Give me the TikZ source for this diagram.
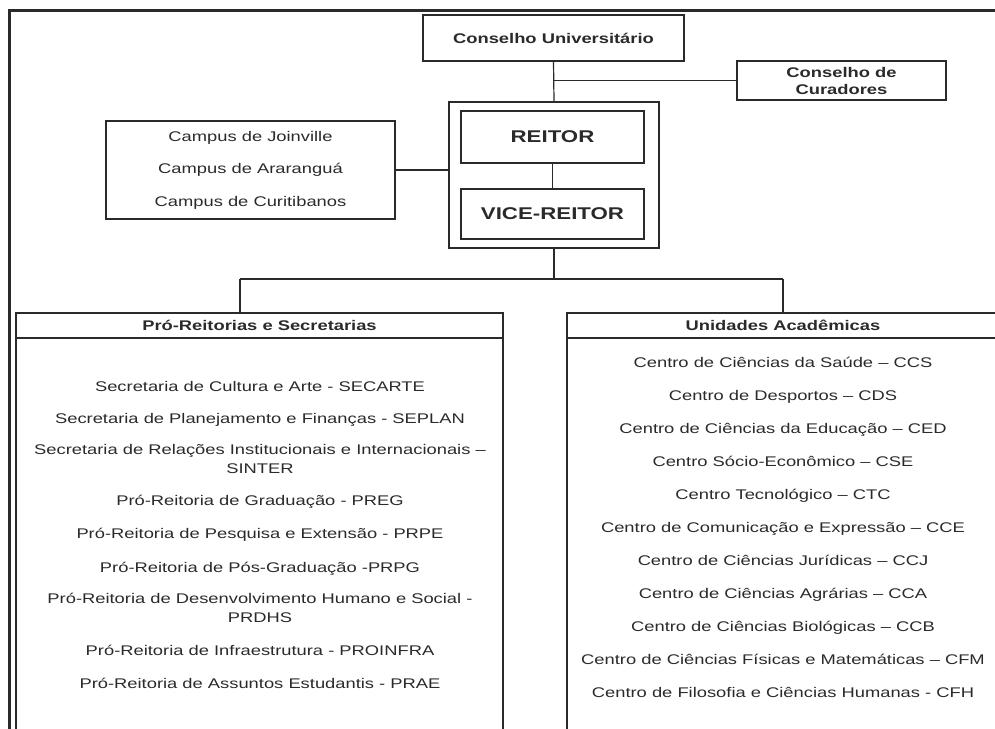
\documentclass[tikz,border=0pt]{standalone}
\usepackage{fontspec}
\setmainfont{Liberation Sans}[FakeStretch=1.31]
\usepackage{tikz}

\definecolor{ink}{HTML}{2A2A2A}

\begin{document}
\begin{tikzpicture}[x=1pt,y=-1pt,
  box/.style={draw=ink,line width=1.2pt,inner sep=0pt,text=ink},
  txt/.style={text=ink,inner sep=0pt,align=center,font=\fontsize{14}{18.5}\selectfont},
  item/.style={txt,anchor=base},
  hd/.style={text=ink,inner sep=0pt,align=center,font=\fontsize{14}{17}\selectfont\bfseries},
  big/.style={text=ink,inner sep=0pt,font=\fontsize{17}{20}\selectfont\bfseries},
  link/.style={draw=ink,line width=1.2pt}]
\useasboundingbox (0,0) rectangle (995,728);
\draw[ink,line width=3pt] (9,10) rectangle (1005,740);

% top of the chart
\node [box,hd,minimum width=261pt,minimum height=46pt] (a) at (553.5,38) {Conselho Universitário};
\node [box,hd,minimum width=209pt,minimum height=39pt] (b) at (841.5,80.5) {Conselho de\\Curadores};
\node [box,minimum width=210pt,minimum height=146pt] (c) at (554,175) {};
\node [box,big,minimum width=183pt,minimum height=52pt] (d) at (552.5,137) {REITOR};
\node [box,big,minimum width=183pt,minimum height=50pt] (e) at (552.5,214) {VICE-REITOR};
\node [box,txt,font=\fontsize{14}{32.5}\selectfont,minimum width=289pt,minimum height=98pt] (f) at (250.5,170)
  {Campus de Joinville\\Campus de Araranguá\\Campus de Curitibanos};

\draw[link] (a.south) -- (c.north);
\draw[link] (a.south |- b.west) -- (b.west);
\draw[link] (d.south) -- (e.north);
\draw[link] (f.east) -- (c.west |- f.east);

% the two big boxes
\node [box,line width=1.6pt,minimum width=487pt,minimum height=447pt] (g) at (259.5,536.5) {};
\node [box,line width=1.6pt,minimum width=432pt,minimum height=447pt] (h) at (783,536.5) {};
\coordinate (jl) at (240,279);
\coordinate (jr) at (783,279);
\draw[link] (c.south) -- (c.south |- jl);
\draw[link] (jl) -- (jr);
\draw[link] (jl) -- (jl |- g.north);
\draw[link] (jr) -- (h.north);

\draw[ink,line width=2pt] (g.west |- 0,338) -- (g.east |- 0,338);
\draw[ink,line width=2pt] (h.west |- 0,338) -- (h.east |- 0,338);
\node [hd] (gt) at (259.5,325.5) {Pró-Reitorias e Secretarias};
\node [hd] (ht) at (783,325.5) {Unidades Acadêmicas};

% left list
\node [item] (p1) at (260,391) {Secretaria de Cultura e Arte - SECARTE};
\node [item] (p2) at (260,423) {Secretaria de Planejamento e Finanças - SEPLAN};
\node [txt] (p3) at (260,459) {Secretaria de Relações Institucionais e Internacionais –\\SINTER};
\node [item] (p4) at (260,505) {Pró-Reitoria de Graduação - PREG};
\node [item] (p5) at (260,538) {Pró-Reitoria de Pesquisa e Extensão - PRPE};
\node [item] (p6) at (260,572) {Pró-Reitoria de Pós-Graduação -PRPG};
\node [txt] (p7) at (260,608) {Pró-Reitoria de Desenvolvimento Humano e Social -\\PRDHS};
\node [item] (p8) at (260,655) {Pró-Reitoria de Infraestrutura - PROINFRA};
\node [item] (p9) at (260,688) {Pró-Reitoria de Assuntos Estudantis - PRAE};

% right list
\node [item] (u1) at (783,367) {Centro de Ciências da Saúde – CCS};
\node [item] (u2) at (783,400) {Centro de Desportos – CDS};
\node [item] (u3) at (783,433) {Centro de Ciências da Educação – CED};
\node [item] (u4) at (783,466) {Centro Sócio-Econômico – CSE};
\node [item] (u5) at (783,499) {Centro Tecnológico – CTC};
\node [item] (u6) at (783,532) {Centro de Comunicação e Expressão – CCE};
\node [item] (u7) at (783,565) {Centro de Ciências Jurídicas – CCJ};
\node [item] (u8) at (783,598) {Centro de Ciências Agrárias – CCA};
\node [item] (u9) at (783,631) {Centro de Ciências Biológicas – CCB};
\node [item] (u10) at (783,664) {Centro de Ciências Físicas e Matemáticas – CFM};
\node [item] (u11) at (783,697) {Centro de Filosofia e Ciências Humanas - CFH};
\end{tikzpicture}
\end{document}
